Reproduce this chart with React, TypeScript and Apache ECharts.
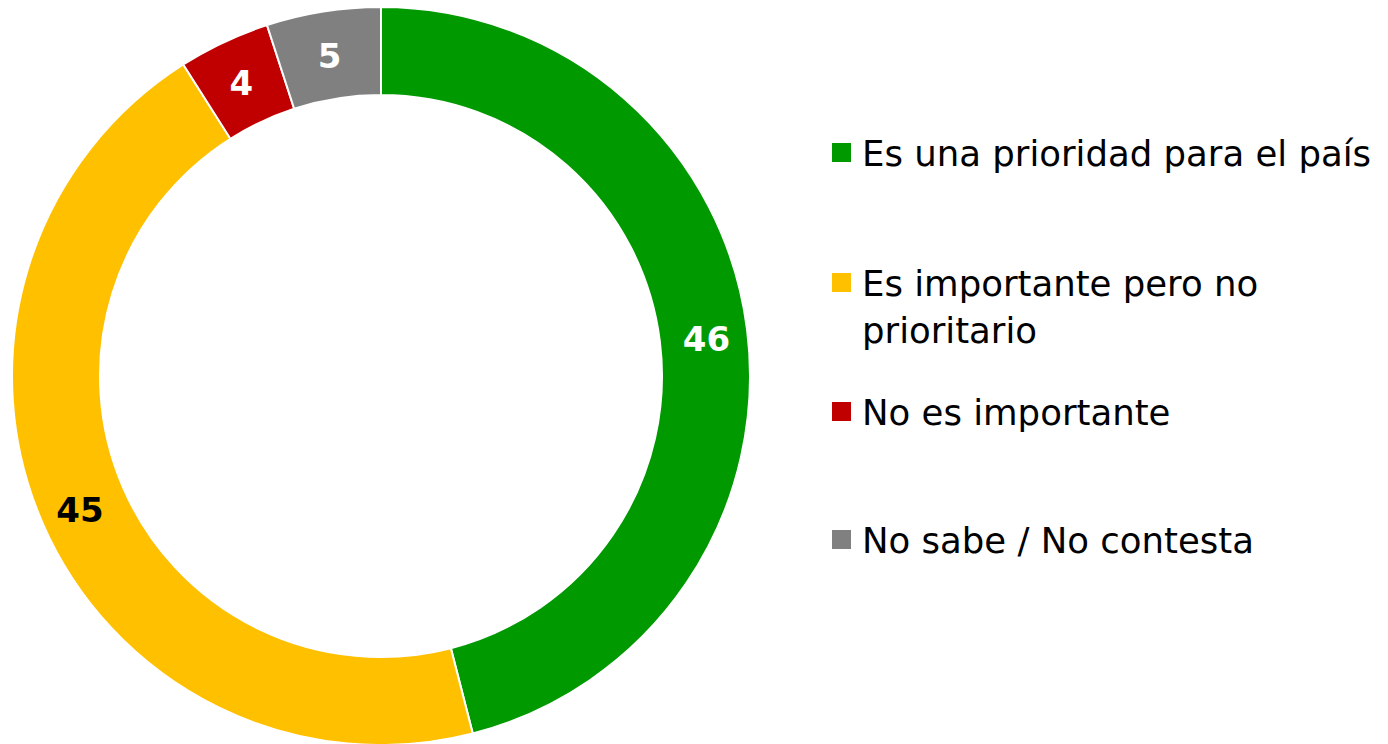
import React, { useEffect, useRef } from "react";
import * as echarts from "echarts";

const categories = [
  "Es una prioridad para el país",
  "Es importante pero no prioritario",
  "No es importante",
  "No sabe / No contesta",
];
const values = [46, 45, 4, 5];
const colors = ["#009900", "#FFC000", "#C00000", "#808080"];
const labelColors = ["#ffffff", "#000000", "#ffffff", "#ffffff"];
const legendLines = [
  ["Es una prioridad para el país"],
  ["Es importante pero no", "prioritario"],
  ["No es importante"],
  ["No sabe / No contesta"],
];

const FONT = "'DejaVu Sans', sans-serif";

export default function App() {
  const ref = useRef<HTMLDivElement>(null);
  useEffect(() => {
    document.body.style.margin = "0";
    const chart = echarts.init(ref.current!, undefined, { renderer: "svg" });
    const legendY = [152, 282, 411, 539];
    const graphics: any[] = [];
    legendLines.forEach((lines, i) => {
      graphics.push({
        type: "rect",
        left: 832,
        top: legendY[i] - 9,
        shape: { width: 19, height: 19 },
        style: { fill: colors[i] },
      });
      lines.forEach((line, j) => {
        graphics.push({
          type: "text",
          x: 862,
          y: legendY[i] + 1 + j * 47,
          style: {
            text: line,
            fill: "#000000",
            font: `35.5px ${FONT}`,
            verticalAlign: "middle",
            align: "left",
          },
        });
      });
    });
    chart.setOption({
      animation: false,
      backgroundColor: "#ffffff",
      graphic: graphics,
      series: [
        {
          type: "pie",
          center: [381, 376],
          radius: [281, 369],
          startAngle: 90,
          clockwise: true,
          avoidLabelOverlap: false,
          itemStyle: { borderColor: "#ffffff", borderWidth: 2 },
          label: {
            show: true,
            position: "inside",
            fontFamily: FONT,
            fontWeight: "bold",
            fontSize: 34,
            offset: [0, 4],
            formatter: "{c}",
          },
          labelLine: { show: false },
          data: categories.map((name, i) => ({
            name,
            value: values[i],
            itemStyle: { color: colors[i] },
            label: { color: labelColors[i] },
          })),
        },
      ],
    });
    return () => chart.dispose();
  }, []);
  return <div ref={ref} style={{ width: 1388, height: 744 }} />;
}
